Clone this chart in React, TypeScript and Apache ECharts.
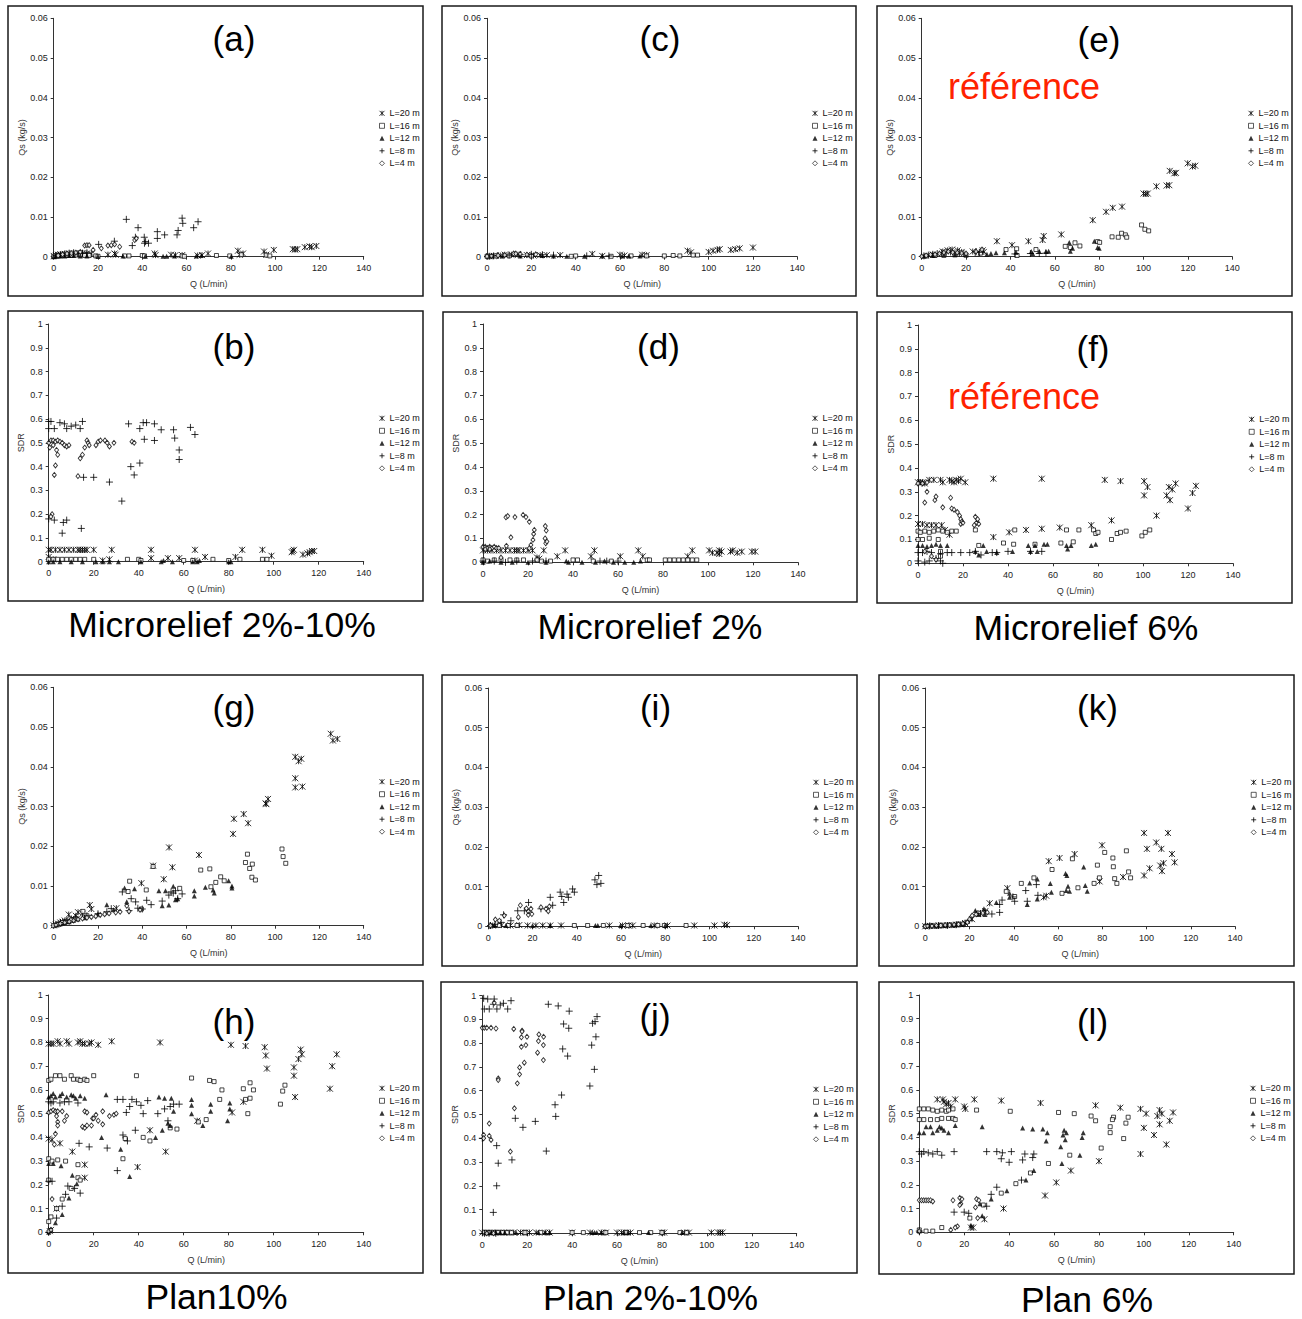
import React, { useEffect, useRef } from 'react';
import * as echarts from 'echarts';

const seriesNames = ['L=20 m', 'L=16 m', 'L=12 m', 'L=8 m', 'L=4 m'];
const qTicksMax = 140;
const qsMax = 0.06;
const sdrMax = 1;

// ---------- (a) Microrelief 2%-10%, Qs ----------
const a_L20 = [[0,0.0002],[1,0.0004],[2,0.0005],[3,0.0006],[5,0.0007],[7,0.0008],[9,0.0008],[11,0.0008],[13,0.0009],[15,0.0008],[17,0.0007],[24.5,0.0005],[27.5,0.0008],[28,0.0005],[45.6,0.0008],[46,0.0004],[53,0.0005],[55,0.0004],[58,0.0004],[65,0.0003],[67,0.0004],[69.7,0.0008],[83.2,0.0015],[84,0.0005],[85.5,0.0008],[95,0.0013],[96,0.0005],[99.4,0.0017],[108,0.0019],[109,0.0018],[110,0.0019],[113.4,0.0024],[115.6,0.0026],[116.5,0.0024],[118.6,0.0027]];
const a_L16 = [[0,0.0001],[2,0.0002],[4,0.0003],[6,0.0003],[8,0.0003],[10,0.0004],[12,0.0004],[14,0.0003],[16,0.0003],[19,0.0002],[20,0.0001],[32,0.0002],[34,0.0002],[40,0.0003],[41,0.0002],[58,0.0002],[59,0.0001],[73.5,0.0003],[79.5,0.0002],[84.7,0.0005],[96,0.0004],[97.6,0.0002]];
const a_L12 = [[0,0],[1,0.0001],[3,0.0002],[5,0.0002],[7,0.0003],[9,0.0003],[12,0.0002],[15,0.0002],[20,0.0001],[31.3,0.0002],[41.4,0.0001],[49.4,0.0001],[51,0.0001],[54.6,0.0002],[64.4,0.0002],[66.7,0.0003],[80.2,0.0001]];
const a_L8 = [[1,0.0003],[3,0.0005],[5,0.0007],[7,0.0009],[9,0.001],[11,0.0008],[13,0.0009],[15,0.001],[20.3,0.0031],[27.4,0.0039],[32.8,0.0094],[35.5,0.0028],[36.9,0.0049],[38.1,0.0073],[40.9,0.0049],[41,0.0034],[41.5,0.0038],[42.8,0.0034],[46.8,0.0063],[46.8,0.0046],[50.1,0.0055],[55.7,0.0055],[56.2,0.0066],[58,0.0097],[58.3,0.0084],[63.2,0.0073],[65.2,0.0088]];
const a_L4 = [[2,0.0003],[4,0.0006],[6,0.0008],[8,0.0009],[10,0.001],[12,0.0012],[14,0.0028],[15,0.0029],[16,0.0029],[17.8,0.0017],[21.5,0.0021],[24.5,0.0028],[26,0.0029],[27.5,0.0031],[29.8,0.0025],[36.6,0.0042],[37.3,0.0046]];

// ---------- (b) Microrelief 2%-10%, SDR ----------
const b_L20 = [[0,0.05],[1,0.05],[3,0.05],[5,0.05],[7,0.05],[9,0.05],[11,0.05],[13,0.05],[14,0.05],[15,0.05],[16,0.05],[17,0.05],[20,0.05],[28,0.05],[45.5,0.05],[65,0.05],[86,0.05],[95,0.05],[99,0.025],[108,0.04],[108.5,0.045],[109,0.05],[113,0.03],[115,0.035],[116,0.04],[117,0.045],[118,0.045],[24,0.005],[27,0.01],[45.5,0.015],[53,0.015],[58,0.015],[69.5,0.02],[83,0.02],[65,0.005],[0,0.02],[2,0.01]];
const b_L16 = [[0,0.01],[2,0.01],[4,0.01],[6,0.01],[8,0.01],[10,0.01],[12,0.01],[14,0.01],[16,0.01],[20,0.01],[35,0.01],[40,0.01],[41,0.005],[60,0.005],[64,0.005],[73,0.01],[80,0.005],[85,0.01],[95,0.01],[97,0.01]];
const b_L12 = [[0,0],[2,0],[5,0],[10,0],[15,0],[21,0],[24,0],[27,0],[31,0],[41,0],[50,0],[51,0.005],[55,0],[64,0],[66,0],[67,0.005],[80,0],[81,0]];
const b_L8 = [[0,0.59],[1,0.59],[0,0.56],[2.5,0.56],[5,0.585],[7,0.58],[8,0.56],[10,0.57],[12,0.575],[14,0.56],[15,0.59],[0,0.18],[2.5,0.175],[6.5,0.165],[8,0.175],[6,0.12],[14.5,0.14],[15.5,0.355],[20,0.355],[27,0.335],[32.5,0.255],[36.5,0.4],[38,0.365],[40.5,0.415],[35.5,0.58],[40.5,0.56],[42,0.585],[43.5,0.585],[42.5,0.515],[47,0.58],[47,0.51],[50,0.555],[55.5,0.555],[56,0.52],[58,0.47],[58,0.43],[63,0.565],[65,0.535]];
const b_L4 = [[0,0.5],[1,0.51],[2,0.51],[3,0.505],[4,0.51],[5,0.505],[0.5,0.48],[2,0.49],[3.5,0.47],[4,0.45],[3,0.405],[2.5,0.365],[6,0.5],[7,0.49],[8,0.485],[9,0.49],[13,0.36],[14,0.435],[15,0.45],[16,0.48],[17,0.51],[17.5,0.5],[18,0.49],[21,0.49],[22,0.505],[23,0.51],[25,0.51],[26,0.5],[27,0.485],[29,0.5],[37,0.505],[38,0.5],[1.5,0.2],[1,0.19]];

// ---------- (c) Microrelief 2%, Qs ----------
const c_L20 = [[1,0.0001],[3,0.0002],[6,0.0003],[8,0.0005],[11,0.0005],[14,0.0005],[18,0.0004],[21,0.0003],[24,0.0004],[27,0.0004],[33,0.0004],[47.5,0.0007],[52,0.0002],[60,0.0005],[62,0.0003],[70,0.0005],[72,0.0004],[90.5,0.0015],[92,0.0011],[100,0.0012],[102,0.0015],[104,0.0017],[105,0.0019],[110,0.0017],[112,0.0019],[114,0.0021],[120,0.0023]];
const c_L16 = [[0,0.0001],[4,0.0002],[10,0.0002],[20,0.0002],[38,0.0001],[40,0.0002],[56,0.0001],[65,0.0002],[72,0.0002],[80,0.0002],[84,0.0003],[87,0.0002],[93,0.0004],[95,0.0004]];
const c_L12 = [[2,0.0001],[7,0.0002],[15,0.0002],[25,0.0003],[30,0.0002],[36,0.0001],[44,0.0001],[52,0.0002],[61,0.0002],[64,0.0002],[69,0.0002]];
const c_L8 = [[1,0.0001],[3,0.0002],[5,0.0003],[10,0.0004],[15,0.0005],[20,0.0006],[25,0.0005],[30,0.0004],[45,0.0002],[55,0.0002]];
const c_L4 = [[0,0.0001],[2,0.0002],[5,0.0003],[8,0.0004],[12,0.0008],[13,0.0008],[15,0.0007],[18,0.0005],[22,0.0006]];

// ---------- (d) Microrelief 2%, SDR ----------
const d_L20 = [[0,0.05],[2,0.05],[4,0.05],[6,0.05],[8,0.05],[10,0.05],[12,0.05],[14,0.05],[15,0.05],[16,0.05],[18,0.05],[20,0.05],[22,0.05],[27,0.05],[33,0.025],[36.5,0.05],[48,0.025],[49.5,0.05],[61,0.025],[69,0.05],[71,0.025],[91,0.025],[93,0.05],[100.5,0.05],[102,0.04],[104,0.04],[105,0.05],[105,0.035],[106,0.045],[110,0.045],[111,0.05],[113,0.04],[115,0.045],[119.5,0.045],[121,0.045],[24,0.02],[25,0.015]];
const d_L16 = [[0,0.01],[2,0.005],[5,0.01],[8,0.01],[12,0.01],[15,0.01],[18,0.01],[24,0.01],[26,0.005],[30,0.005],[40,0.01],[42,0.01],[49,0.005],[57,0.005],[73,0.01],[74,0.01],[81,0.01],[83,0.01],[85,0.01],[87,0.01],[89,0.01],[91,0.01],[93,0.01],[95,0.01]];
const d_L12 = [[0,0],[3,0.005],[8,0],[13,0],[20,0],[28,0],[37,0.005],[38,0],[44,0],[50,0],[54,0.005],[58,0],[63,0],[67,0],[70,0.005]];
const d_L8 = [[0,0.005],[5,0.005],[10,0],[15,0.005],[22,0.005],[28,0.005],[52,0.005],[55,0.005],[60,0.005]];
const d_L4 = [[0,0.065],[1,0.065],[2,0.06],[3,0.065],[4,0.06],[5,0.065],[6,0.06],[7,0.06],[1,0.055],[3,0.055],[8,0.02],[10.2,0.189],[11,0.194],[14.2,0.19],[17.8,0.199],[19.1,0.19],[20.6,0.17],[12.4,0.105],[22.5,0.119],[22.8,0.136],[27.7,0.152],[28.1,0.133],[27.6,0.1],[27.9,0.08],[28.4,0.087],[10.4,0.069],[20.6,0.059],[21.3,0.073],[22.2,0.094]];

// ---------- (e) Microrelief 6%, Qs ----------
const e_L20 = [[5,0.0005],[9.5,0.0013],[11.7,0.0016],[13.7,0.0018],[16.2,0.0016],[18,0.0012],[23,0.0013],[27.5,0.0016],[28,0.0012],[33.9,0.0039],[40.7,0.0029],[48.1,0.0039],[54.5,0.0042],[55,0.0052],[62.9,0.0056],[77.1,0.0092],[83.1,0.0113],[86.1,0.0123],[90.3,0.0126],[100,0.0159],[101,0.0158],[101.9,0.0159],[105.8,0.0177],[110.4,0.0179],[111.6,0.018],[111.8,0.0216],[113.9,0.021],[114.6,0.0211],[119.9,0.0235],[122.1,0.0227],[123.3,0.0229]];
const e_L16 = [[2,0.0002],[6,0.0003],[10,0.0004],[15,0.0005],[20,0.0004],[25,0.0006],[26.5,0.0009],[38,0.0018],[42.8,0.002],[43,0.0003],[51.5,0.0018],[64.7,0.0026],[67,0.0023],[69.1,0.0035],[71.3,0.0027],[79.3,0.0038],[80.2,0.0036],[85.8,0.005],[88.6,0.0049],[90.1,0.0059],[91.8,0.0055],[92.4,0.0049],[99.1,0.008],[100.6,0.0069],[102.3,0.0065]];
const e_L12 = [[1,0.0001],[5,0.0003],[10,0.0004],[15,0.0005],[20,0.0005],[29.4,0.0006],[31.2,0.0008],[33.5,0.001],[37.3,0.001],[42.5,0.0011],[49.4,0.0013],[50,0.0008],[53,0.0014],[56,0.0013],[57.2,0.0014],[66.5,0.0036],[67,0.0014],[68,0.0021],[77.8,0.0039],[79.3,0.0023],[80,0.0021]];
const e_L8 = [[1,0.0002],[3,0.0004],[5,0.0006],[7,0.0008],[9,0.001],[11,0.0011],[13,0.0012],[15,0.001],[17,0.0009],[19,0.0008],[24.5,0.0013],[26,0.0011],[42,0.0007],[49,0.0008],[53,0.0008],[56,0.0009]];
const e_L4 = [[0,0.0001],[2,0.0003],[4,0.0005],[6,0.0006],[8,0.0008],[10,0.001],[12,0.0013],[14,0.0011],[16,0.001],[18,0.0009],[20,0.0008],[24.5,0.0013],[27.2,0.0018]];

// ---------- (f) Microrelief 6%, SDR ----------
const f_L20 = [[0,0.34],[1,0.34],[2,0.34],[3,0.335],[5,0.35],[7,0.35],[10,0.35],[11,0.34],[14,0.35],[15,0.345],[16,0.34],[17,0.35],[18,0.345],[19,0.355],[21,0.34],[33.5,0.355],[55,0.355],[83,0.35],[90,0.345],[100.5,0.345],[102,0.32],[100.5,0.285],[110.5,0.285],[111.5,0.32],[112,0.265],[113,0.31],[114.5,0.335],[120,0.23],[122,0.295],[123.5,0.325],[106,0.2],[86,0.18],[77,0.16],[63,0.15],[55,0.145],[48,0.14],[40.5,0.13],[33.5,0.11],[10.5,0.16],[0,0.165],[2,0.165],[4,0.16],[6,0.16],[8,0.16],[14,0.12],[12,0.14]];
const f_L16 = [[0,0.135],[1,0.13],[3,0.135],[5,0.13],[7,0.135],[9,0.14],[11,0.135],[13,0.13],[15,0.135],[17,0.135],[0,0.1],[2,0.1],[5,0.105],[9,0.1],[25.5,0.14],[27,0.075],[38,0.085],[42.5,0.08],[43,0.14],[52,0.08],[63.5,0.085],[66,0.14],[69,0.09],[71.5,0.14],[78,0.14],[79,0.125],[80,0.13],[86,0.1],[88.5,0.125],[90,0.13],[92.5,0.135],[99.5,0.115],[101,0.13],[103,0.14],[10,0.05],[10,0.03]];
const f_L12 = [[0,0.075],[2,0.075],[4,0.07],[6,0.075],[8,0.08],[10,0.075],[13,0.075],[25.5,0.05],[27,0.035],[29,0.075],[30.5,0.05],[35,0.045],[42,0.05],[49,0.075],[50,0.05],[52,0.075],[53,0.05],[56,0.08],[57.5,0.08],[66,0.075],[66.5,0.06],[68,0.075],[77,0.075],[79,0.08]];
const f_L8 = [[0,0.045],[2,0.045],[4,0.05],[6,0.045],[10,0.04],[13,0.045],[15,0.045],[19,0.045],[23,0.045],[25.5,0.05],[28,0.035],[33,0.045],[35,0.045],[40,0.05],[50,0.05],[55,0.05],[0,0.01],[3,0.005],[5,0.01],[8,0.02],[10,0.01],[11,0]];
const f_L4 = [[0,0.335],[2,0.335],[4,0.34],[4,0.3],[3,0.255],[7.5,0.265],[8,0.28],[11,0.235],[14.5,0.275],[15,0.23],[16,0.225],[17.5,0.215],[18.5,0.2],[19,0.185],[19,0.165],[19.5,0.175],[20,0.17],[25.5,0.195],[26,0.17],[26.5,0.185],[27,0.165],[25,0.16],[3,0.05],[6,0.03],[8,0.015]];

// ---------- (g) Plan 10%, Qs ----------
const g_L20 = [[0,0.0001],[1,0.0003],[2,0.0005],[3,0.0008],[4,0.001],[5,0.0013],[6.8,0.0028],[8,0.0018],[10,0.0025],[11,0.0034],[13,0.003],[16.3,0.0052],[17,0.0042],[28.3,0.0044],[39.6,0.0107],[44.9,0.0151],[49.7,0.0117],[52.1,0.0197],[53.6,0.0147],[65.6,0.0178],[81,0.0231],[81.4,0.0269],[85.8,0.0281],[87.8,0.0258],[95.7,0.0308],[96,0.0306],[96.8,0.0319],[109.1,0.0425],[110.6,0.0414],[111.8,0.042],[109.1,0.0371],[109.1,0.0348],[112.3,0.035],[125.1,0.0483],[126.1,0.0466],[128.1,0.047]];
const g_L16 = [[0,0],[2,0.0004],[4,0.0008],[6,0.0011],[8,0.0014],[10,0.0018],[13.2,0.0036],[15,0.0025],[33.6,0.0086],[34.3,0.0112],[39.6,0.0042],[41.8,0.009],[44.9,0.0149],[56.9,0.0094],[66.4,0.014],[70.5,0.0143],[71,0.0098],[73.2,0.0109],[75.4,0.0123],[77,0.0113],[86.6,0.0159],[87.5,0.018],[88.5,0.0144],[89.5,0.0122],[89.7,0.0155],[91.1,0.0115],[103.1,0.0193],[103.6,0.0174],[104.8,0.0157]];
const g_L12 = [[1,0.0002],[3,0.0005],[5,0.0008],[7,0.001],[9,0.0014],[11,0.0017],[14,0.002],[20,0.003],[24,0.0053],[27,0.004],[32,0.0095],[33,0.006],[36.5,0.0093],[47.5,0.0088],[49,0.005],[50.5,0.0088],[52,0.0052],[54,0.0099],[55,0.0065],[56,0.0068],[63.5,0.0088],[63.5,0.0075],[68.5,0.0097],[72,0.009],[72.5,0.0082],[79,0.0113],[80.5,0.01],[80.5,0.0095]];
const g_L8 = [[3,0.0008],[6,0.0013],[10,0.002],[15,0.0025],[20,0.003],[24,0.0035],[26,0.0043],[31,0.0085],[34,0.0038],[35,0.0068],[37,0.006],[38,0.0044],[40,0.0042],[42,0.0064],[44,0.0053],[49,0.0062],[52,0.0077],[53,0.0085],[54,0.0082],[55,0.0088],[56,0.0068],[58,0.008]];
const g_L4 = [[1,0.0002],[3,0.0005],[5,0.0008],[7,0.001],[9,0.0013],[11,0.0016],[13,0.0018],[15,0.002],[17,0.0022],[19,0.0024],[21,0.0027],[23,0.0029],[25,0.0031],[28,0.0033],[30,0.0035],[33,0.005],[34,0.0036],[39,0.004]];

// ---------- (h) Plan 10%, SDR ----------
const h_L20 = [[0,0.795],[1,0.795],[2,0.795],[4,0.805],[5,0.795],[8,0.805],[9,0.795],[13,0.8],[14,0.805],[15,0.795],[16,0.795],[18,0.795],[19,0.8],[22,0.79],[28,0.805],[49.5,0.8],[81,0.79],[87.5,0.785],[96,0.78],[96.5,0.745],[97,0.69],[109,0.695],[109,0.66],[111,0.73],[112,0.77],[112.5,0.75],[126,0.7],[128,0.75],[125,0.605],[109.5,0.57],[86.5,0.55],[81.5,0.505],[66,0.47],[52,0.34],[45,0.43],[39.5,0.275],[16,0.285],[16,0.23],[10.5,0.34],[5,0.375],[1.5,0.39],[0,0.395],[3.5,0.1],[0.5,0.005],[1,0.01]];
const h_L16 = [[0,0.64],[1,0.645],[3,0.66],[5,0.66],[7,0.645],[10,0.66],[11,0.645],[13,0.645],[14,0.64],[16,0.645],[17,0.64],[20,0.66],[39,0.66],[63.5,0.65],[71.5,0.64],[73.5,0.635],[77,0.6],[76,0.56],[86.5,0.605],[87.5,0.56],[89.5,0.63],[91,0.6],[89.5,0.565],[88.5,0.5],[70,0.475],[66.5,0.465],[57,0.435],[54,0.44],[45,0.385],[42,0.4],[34,0.395],[33,0.31],[103,0.54],[104,0.595],[105,0.62],[0,0.31],[1.5,0.3],[4,0.305],[7.5,0.3],[13,0.285],[13,0.23],[14,0.22],[10,0.185],[6,0.14],[3.5,0.1],[1,0.065],[0,0.045],[0,0.22]];
const h_L12 = [[0,0.57],[1,0.575],[2,0.585],[3,0.57],[5,0.575],[6,0.585],[8,0.57],[10,0.58],[11,0.575],[12,0.565],[14,0.575],[16,0.565],[25.5,0.58],[49,0.57],[51.5,0.565],[54.5,0.565],[55.5,0.51],[63.5,0.56],[63.5,0.535],[63.5,0.5],[72,0.54],[72,0.51],[80.5,0.545],[80.5,0.52],[79.5,0.47],[68.5,0.45],[50.5,0.43],[47.5,0.4],[53,0.46],[54,0.45],[23.5,0.4],[32,0.35],[36,0.235],[0,0.29],[2,0.29],[5.5,0.28],[10.5,0.24],[12.5,0.205],[9,0.145],[6,0.075],[3,0.04],[0,0]];
const h_L8 = [[0,0.55],[1,0.545],[2,0.55],[5,0.545],[7,0.55],[9,0.55],[13,0.545],[30.5,0.56],[33,0.56],[37,0.56],[39,0.55],[41,0.535],[42,0.5],[44,0.555],[36,0.53],[34.5,0.505],[48.5,0.5],[51.5,0.52],[54,0.53],[55.5,0.54],[58,0.54],[53,0.47],[33,0.41],[35,0.385],[38.5,0.43],[30.5,0.26],[26,0.355],[18,0.36],[13.5,0.375],[14,0.165],[11.5,0.185],[8.5,0.195],[7.5,0.16],[6,0.11],[3.5,0.06],[1.5,0.215],[0,0.215],[0,0]];
const h_L4 = [[0,0.505],[1,0.51],[2,0.515],[3,0.51],[4,0.51],[6,0.51],[3.5,0.49],[4,0.465],[3,0.415],[2.5,0.37],[4,0.45],[7,0.47],[8,0.49],[16,0.51],[17,0.505],[15,0.445],[16,0.44],[17,0.45],[19,0.45],[19.5,0.48],[20,0.48],[21,0.495],[22,0.47],[24,0.51],[24,0.455],[27,0.49],[29,0.495],[30,0.5],[1.5,0.14],[0,0.005],[1,0.01]];

// ---------- (i) Plan 2%-10%, Qs ----------
const i_L20 = [[2,0.0002],[6,0.0003],[10,0.0002],[14,0.0003],[17.8,0.0002],[21.5,0.0002],[24.6,0.0002],[28,0.0002],[32.9,0.0002],[54.7,0.0002],[60.7,0.0002],[63.4,0.0002],[65.3,0.0002],[75,0.0002],[81,0.0002],[93.1,0.0002],[102.2,0.0002],[106.7,0.0004],[107.9,0.0003]];
const i_L16 = [[1,0.0001],[5,0.0002],[9,0.0002],[13,0.0002],[38.9,0.0002],[44.9,0.0002],[52,0.0002],[63,0.0002],[70,0.0002],[76.6,0.0002],[79.6,0.0002],[89.4,0.0002]];
const i_L12 = [[3,0.0002],[8,0.0002],[20,0.0002],[28,0.0002],[48.4,0.0002],[49.5,0.0002],[59.8,0.0002],[73.5,0.0002],[80,0.0002]];
const i_L8 = [[1,0.0002],[3,0.0005],[5.7,0.001],[6.9,0.0029],[10.2,0.0014],[13.3,0.0039],[16.3,0.0039],[18.2,0.006],[23.8,0.0044],[28,0.0073],[29.1,0.0053],[32.5,0.0086],[33.2,0.0075],[34.1,0.006],[35.6,0.0081],[36.2,0.0073],[38.1,0.0094],[38.9,0.0086],[48.2,0.0117],[49.1,0.0105],[49.9,0.0128],[50.9,0.0108]];
const i_L4 = [[1,0.0002],[3.2,0.0017],[5,0.0014],[7.2,0.0027],[13.6,0.0023],[14.5,0.0053],[17.2,0.0045],[18.1,0.0037],[18.1,0.0029],[19.3,0.0044],[19.7,0.0031],[23.8,0.0048],[26.1,0.0044],[27.1,0.0038],[27.6,0.005]];

// ---------- (j) Plan 2%-10%, SDR ----------
const j_L20 = [[0,0.003],[2,0.003],[4,0.003],[6,0.003],[8,0.003],[10,0.003],[12,0.003],[14,0.003],[17,0.003],[19,0.003],[21,0.003],[24,0.003],[28,0.003],[30,0.003],[40,0.003],[48,0.003],[53,0.003],[55,0.003],[60,0.003],[62,0.003],[64,0.003],[66,0.003],[80,0.003],[81,0.003],[90,0.003],[92,0.003],[102,0.003],[105,0.003],[106,0.003],[107,0.003]];
const j_L16 = [[1,0.003],[3,0.003],[5,0.003],[7,0.003],[9,0.003],[11,0.003],[13,0.003],[19,0.003],[26,0.003],[40,0.003],[45,0.003],[55,0.003],[64,0.003],[70,0.003],[75,0.003],[80,0.003],[88,0.003],[91,0.003]];
const j_L12 = [[2,0.003],[4,0.003],[6,0.003],[8,0.003],[10,0.003],[15,0.003],[25,0.003],[28,0.003],[30,0.003],[49,0.003],[50,0.003],[51,0.003],[53,0.003],[63,0.003],[65,0.003],[74,0.003],[89,0.003]];
const j_L8 = [[0.6,0.989],[2.4,0.986],[5.3,0.986],[0.9,0.944],[3.1,0.944],[6.5,0.944],[4.9,0.964],[8,0.961],[9.4,0.968],[11.3,0.944],[12.8,0.979],[29.4,0.964],[33.8,0.957],[38.7,0.935],[36.2,0.881],[38.5,0.863],[35.8,0.776],[38,0.746],[50.2,0.891],[49.1,0.884],[51.1,0.912],[50.6,0.827],[48.7,0.792],[49.9,0.69],[47.9,0.62],[35.3,0.582],[32.4,0.541],[32.7,0.492],[23.6,0.471],[18.1,0.446],[14.7,0.484],[28.5,0.346],[6.4,0.369],[7.1,0.295],[13.2,0.309],[6.4,0.2],[4.9,0.088],[0,0.4],[1,0],[3,0],[6,0]];
const j_L4 = [[0,0.865],[0.9,0.865],[2,0.865],[3.9,0.865],[6.1,0.862],[5.3,0.97],[14,0.86],[17.7,0.853],[17.7,0.849],[17.4,0.825],[19.9,0.827],[17.4,0.785],[19.4,0.792],[25.2,0.837],[25,0.809],[27.3,0.827],[27.2,0.792],[24.6,0.76],[27.2,0.729],[18.7,0.718],[16.6,0.698],[16.6,0.669],[15.6,0.631],[7.1,0.652],[7.1,0.645],[14.3,0.526],[3.1,0.462],[3.1,0.41],[3.9,0.393],[0.6,0.414],[0.6,0.4],[12.5,0.344],[2,0],[5,0]];

// ---------- (k) Plan 6%, Qs ----------
const k_L20 = [[0,0],[2,0.0001],[4,0.0001],[6,0.0002],[8,0.0002],[10,0.0003],[12,0.0003],[14,0.0004],[16,0.0005],[18,0.0008],[21.1,0.0018],[23.8,0.0033],[27.1,0.0038],[29.1,0.0058],[37.1,0.0096],[53.5,0.0073],[54.7,0.0077],[55.8,0.0164],[60.7,0.0172],[67.5,0.0182],[78.8,0.0113],[79.9,0.0204],[89.4,0.0124],[98.9,0.0128],[98.9,0.0235],[100.2,0.0195],[101.4,0.0146],[104.4,0.0211],[106.2,0.0153],[106.7,0.0195],[107,0.0139],[107.7,0.0159],[109.7,0.0235],[111.5,0.0182],[112.7,0.0161]];
const k_L16 = [[0,0],[3,0.0001],[7,0.0002],[11,0.0003],[15,0.0005],[24,0.0033],[36.6,0.0088],[40.4,0.0075],[43.4,0.0108],[49.1,0.0122],[57.3,0.0143],[61.8,0.0083],[66.5,0.017],[69,0.0097],[76.3,0.0108],[77.8,0.0154],[78.7,0.0122],[81.1,0.0186],[84.8,0.0172],[85,0.015],[85.6,0.012],[86.6,0.0108],[90.9,0.019],[91.9,0.0137],[92.8,0.0122]];
const k_L12 = [[1,0.0001],[5,0.0001],[9,0.0002],[13,0.0003],[17,0.0006],[22.6,0.004],[24,0.003],[26.5,0.0044],[27,0.003],[32.1,0.006],[38.1,0.0083],[38.1,0.0073],[46.1,0.0055],[47.2,0.0109],[50.6,0.0119],[50.6,0.0069],[56.5,0.0108],[57,0.0086],[63.4,0.0133],[63.7,0.009],[64,0.0128],[64.5,0.0101],[65.2,0.0088],[71.6,0.0149],[72.3,0.0103],[73.2,0.0088]];
const k_L8 = [[2,0.0001],[6,0.0002],[10,0.0002],[14,0.0004],[18,0.0008],[20,0.0015],[25,0.0032],[30.1,0.0031],[33.6,0.0035],[33.6,0.0055],[34.7,0.0066],[39.6,0.0074],[40.4,0.0063],[45.4,0.009],[46.1,0.0063],[50.2,0.0105],[50.9,0.0078]];
const k_L4 = [[0,0],[1,0.0001],[3,0.0001],[5,0.0002],[7,0.0002],[9,0.0003],[11,0.0003],[13,0.0004],[15,0.0005],[17,0.0007],[19,0.001],[20,0.0018],[21.2,0.0027],[23,0.003],[26,0.0033],[28,0.0035]];

// ---------- (l) Plan 6%, SDR ----------
const l_L20 = [[8,0.56],[10.5,0.56],[11,0.55],[12,0.54],[13,0.545],[14,0.53],[16,0.56],[20,0.53],[20.5,0.52],[24.5,0.56],[36.5,0.555],[54,0.545],[78.5,0.535],[89.5,0.525],[98.5,0.52],[101,0.5],[106,0.49],[107,0.515],[108,0.5],[113,0.505],[111.5,0.47],[107,0.455],[100,0.44],[104.5,0.41],[110,0.37],[98.5,0.33],[80,0.3],[67.5,0.26],[61,0.21],[56,0.155],[37.5,0.1],[29,0.055],[24,0.02],[23,0.02]];
const l_L16 = [[0,0.52],[2,0.52],[4,0.52],[6,0.515],[8,0.51],[10,0.515],[12,0.51],[13,0.515],[15,0.52],[0,0.475],[2,0.475],[5,0.475],[8,0.475],[10,0.48],[13,0.48],[15,0.48],[16,0.475],[25.5,0.515],[40.5,0.51],[62,0.505],[69,0.5],[76.5,0.49],[78.5,0.47],[86.5,0.485],[86,0.475],[85,0.445],[85,0.42],[93,0.485],[92,0.46],[91,0.395],[81,0.355],[67,0.325],[57.5,0.29],[49.5,0.25],[43,0.205],[36.5,0.165],[28.5,0.115],[22.5,0.06],[0,0.01],[3,0.005],[6,0.005],[10,0.02]];
const l_L12 = [[0,0.42],[2,0.42],[3,0.445],[5,0.445],[6,0.42],[8,0.43],[9,0.445],[10,0.44],[11,0.43],[13,0.42],[16,0.45],[28,0.445],[46,0.44],[50.5,0.435],[55,0.435],[57,0.42],[56.5,0.385],[64.5,0.43],[64,0.41],[65.5,0.42],[65,0.39],[63,0.36],[73,0.42],[72.5,0.4],[71.5,0.325],[63.5,0.29],[51,0.26],[47.5,0.22],[39,0.175],[32,0.14],[27,0.12],[28,0.07],[23,0.03],[0,0.005]];
const l_L8 = [[0,0.34],[1,0.33],[2,0.34],[4,0.335],[6,0.33],[8,0.34],[10,0.325],[15.5,0.34],[30,0.34],[34.5,0.34],[37,0.335],[41,0.34],[40,0.295],[36.5,0.31],[46,0.305],[47,0.33],[50.5,0.315],[51,0.33],[45.5,0.22],[34.5,0.19],[32,0.16],[30,0.11],[20,0.085],[22,0.08],[15.5,0.085],[0,0.005]];
const l_L4 = [[0,0.135],[1,0.135],[2,0.135],[3,0.135],[4,0.135],[5,0.135],[6,0.13],[15,0.135],[18,0.145],[19,0.14],[18.5,0.12],[18,0.115],[25.5,0.14],[26.5,0.135],[25,0.105],[26,0.06],[17,0.025],[16,0.02],[14,0.01],[0,0.005]];

const captions = ['Microrelief 2%-10%', 'Microrelief 2%', 'Microrelief 6%', 'Plan10%', 'Plan 2%-10%', 'Plan 6%'];
const panelLabels = ['(a)', '(b)', '(c)', '(d)', '(e)', '(f)', '(g)', '(h)', '(i)', '(j)', '(k)', '(l)'];
const redNote = 'référence';

const FONT = '"Liberation Sans", Arial, Helvetica, sans-serif';

type Panel = {
  kind: 'qs' | 'sdr';
  grid: number[];
  frame: number[];
  label: number[];
  legend: number[];
  data: number[][][];
};

const panels: Panel[] = [
  { kind: 'qs', grid: [53.7, 18.3, 310, 238.4], frame: [8, 6, 415, 290], label: [234, 38.5], legend: [383, 113.3], data: [a_L20, a_L16, a_L12, a_L8, a_L4] },
  { kind: 'sdr', grid: [48.7, 324, 315, 237.7], frame: [8, 311, 415, 290], label: [234, 346], legend: [383, 418.3], data: [b_L20, b_L16, b_L12, b_L8, b_L4] },
  { kind: 'qs', grid: [487, 18.3, 310.3, 238.4], frame: [442, 6, 414, 290], label: [660, 38.5], legend: [816, 113.3], data: [c_L20, c_L16, c_L12, c_L8, c_L4] },
  { kind: 'sdr', grid: [483, 324, 315, 238.3], frame: [443, 312, 414, 290], label: [658.5, 346], legend: [816, 418.3], data: [d_L20, d_L16, d_L12, d_L8, d_L4] },
  { kind: 'qs', grid: [921.7, 18.3, 310.6, 238.4], frame: [877, 6, 415, 290], label: [1099, 39], legend: [1252, 113.3], data: [e_L20, e_L16, e_L12, e_L8, e_L4] },
  { kind: 'sdr', grid: [918, 325, 315, 238.3], frame: [877, 312, 415, 291], label: [1093, 348], legend: [1252.7, 419.3], data: [f_L20, f_L16, f_L12, f_L8, f_L4] },
  { kind: 'qs', grid: [53.7, 687.3, 310, 238.4], frame: [8, 675, 415, 290], label: [234, 707.5], legend: [383, 781.7], data: [g_L20, g_L16, g_L12, g_L8, g_L4] },
  { kind: 'sdr', grid: [48.7, 995, 315, 237.3], frame: [8, 981, 415, 292], label: [234, 1021], legend: [383, 1088.3], data: [h_L20, h_L16, h_L12, h_L8, h_L4] },
  { kind: 'qs', grid: [488.3, 688, 309.7, 238.3], frame: [442, 675, 415, 291], label: [655.5, 707.5], legend: [817, 782.3], data: [i_L20, i_L16, i_L12, i_L8, i_L4] },
  { kind: 'sdr', grid: [482.3, 995.7, 314.4, 237.6], frame: [441, 982, 416, 291], label: [655, 1016.5], legend: [817, 1089.3], data: [j_L20, j_L16, j_L12, j_L8, j_L4] },
  { kind: 'qs', grid: [925.3, 688, 309.7, 238.3], frame: [879, 675, 415, 291], label: [1097.5, 707.5], legend: [1254.7, 782.3], data: [k_L20, k_L16, k_L12, k_L8, k_L4] },
  { kind: 'sdr', grid: [919.3, 995, 314.4, 237.3], frame: [879, 982, 415, 292], label: [1092.5, 1021], legend: [1254, 1088.3], data: [l_L20, l_L16, l_L12, l_L8, l_L4] },
];

const captionPos = [[222, 625], [650, 627], [1086, 628], [216.5, 1297], [650.5, 1298], [1087, 1300]];
const redPos = [[1024, 86], [1024, 396]];

const STAR = 'path://M0,0L10,10M10,0L0,10M5,0L5,10';
const PLUS = 'path://M5,0L5,10M0,5L10,5';
const markerStyles: any[] = [
  { symbol: STAR, symbolSize: 6, itemStyle: { color: '#000', borderColor: '#000', borderWidth: 1 } },
  { symbol: 'rect', symbolSize: 4, itemStyle: { color: '#fff', borderColor: '#000', borderWidth: 0.9 } },
  { symbol: 'triangle', symbolSize: 5, itemStyle: { color: '#000', borderWidth: 0 } },
  { symbol: PLUS, symbolSize: 7, itemStyle: { color: '#000', borderColor: '#000', borderWidth: 1 } },
  { symbol: 'diamond', symbolSize: [4, 5], itemStyle: { color: '#fff', borderColor: '#000', borderWidth: 0.9 } },
];
const legendIconStyles: any[] = [
  { icon: STAR, itemStyle: { color: '#000', borderColor: '#000', borderWidth: 1 } },
  { icon: 'rect', itemStyle: { color: '#fff', borderColor: '#000', borderWidth: 0.8 } },
  { icon: 'triangle', itemStyle: { color: '#000', borderWidth: 0 } },
  { icon: PLUS, itemStyle: { color: '#000', borderColor: '#000', borderWidth: 1 } },
  { icon: 'diamond', itemStyle: { color: '#fff', borderColor: '#000', borderWidth: 0.8 } },
];

function textEl(text: string, x: number, y: number, size: number, color: string) {
  return {
    type: 'text',
    x,
    y,
    silent: true,
    z: 50,
    style: {
      text,
      fill: color,
      fontSize: size,
      fontFamily: FONT,
      align: 'center',
      verticalAlign: 'middle',
      textAlign: 'center',
      textVerticalAlign: 'middle',
    },
  };
}

export default function App() {
  const ref = useRef<HTMLDivElement>(null);
  useEffect(() => {
    if (!ref.current) return;
    const chart = echarts.init(ref.current, undefined, { renderer: 'svg' });
    const axisColor = '#333';
    const grid = panels.map((p) => ({ left: p.grid[0], top: p.grid[1], width: p.grid[2], height: p.grid[3], containLabel: false }));
    const xAxis = panels.map((p, i) => ({
      gridIndex: i,
      type: 'value',
      min: 0,
      max: qTicksMax,
      interval: 20,
      name: 'Q (L/min)',
      nameLocation: 'middle',
      nameGap: 23,
      nameTextStyle: { fontSize: 9, color: '#333', fontFamily: FONT },
      axisLine: { show: true, onZero: false, lineStyle: { color: axisColor, width: 1 } },
      axisTick: { show: true, length: 3, lineStyle: { color: axisColor } },
      axisLabel: { fontSize: 9, color: '#222', margin: 7, fontFamily: FONT },
      splitLine: { show: false },
    }));
    const yAxis = panels.map((p, i) => ({
      gridIndex: i,
      type: 'value',
      min: 0,
      max: p.kind === 'qs' ? qsMax : sdrMax,
      interval: p.kind === 'qs' ? 0.01 : 0.1,
      name: p.kind === 'qs' ? 'Qs (kg/s)' : 'SDR',
      nameLocation: 'middle',
      nameGap: p.kind === 'qs' ? 26 : 23,
      nameRotate: 90,
      nameTextStyle: { fontSize: 9, color: '#333', fontFamily: FONT },
      axisLine: { show: true, onZero: false, lineStyle: { color: axisColor, width: 1 } },
      axisTick: { show: true, length: 3, lineStyle: { color: axisColor } },
      axisLabel: { fontSize: 9, color: '#222', margin: 6, fontFamily: FONT },
      splitLine: { show: false },
    }));
    const series: any[] = [];
    panels.forEach((p, i) => {
      p.data.forEach((d, k) => {
        series.push({
          type: 'scatter',
          name: seriesNames[k],
          xAxisIndex: i,
          yAxisIndex: i,
          data: d,
          symbol: markerStyles[k].symbol,
          symbolSize: markerStyles[k].symbolSize,
          itemStyle: markerStyles[k].itemStyle,
          emphasis: { disabled: true },
          z: 2 + k,
        });
      });
    });
    const legend = panels.map((p) => ({
      data: seriesNames.map((n, k) => ({ name: n, icon: legendIconStyles[k].icon, itemStyle: legendIconStyles[k].itemStyle })),
      orient: 'vertical',
      left: p.legend[0] - 4,
      top: p.legend[1] - 6,
      padding: 0,
      itemWidth: 5,
      itemHeight: 5,
      itemGap: 0.5,
      selectedMode: false,
      textStyle: { fontSize: 9, lineHeight: 12, color: '#111', fontFamily: FONT },
    }));
    const graphic: any[] = [];
    panels.forEach((p, i) => {
      graphic.push({
        type: 'rect',
        silent: true,
        z: 40,
        shape: { x: p.frame[0], y: p.frame[1], width: p.frame[2], height: p.frame[3] },
        style: { fill: 'none', stroke: '#1a1a1a', lineWidth: 1.5 },
      });
      graphic.push(textEl(panelLabels[i], p.label[0], p.label[1], 35, '#000'));
    });
    redPos.forEach((r) => graphic.push(textEl(redNote, r[0], r[1], 36, '#ff2200')));
    captions.forEach((c, i) => graphic.push(textEl(c, captionPos[i][0], captionPos[i][1], 35.5, '#000')));

    chart.setOption({
      animation: false,
      backgroundColor: '#fff',
      textStyle: { fontFamily: FONT },
      grid,
      xAxis,
      yAxis,
      legend,
      series,
      graphic,
    });
    return () => chart.dispose();
  }, []);
  return <div ref={ref} style={{ position: 'absolute', left: 0, top: 0, width: 1302, height: 1319 }} />;
}
